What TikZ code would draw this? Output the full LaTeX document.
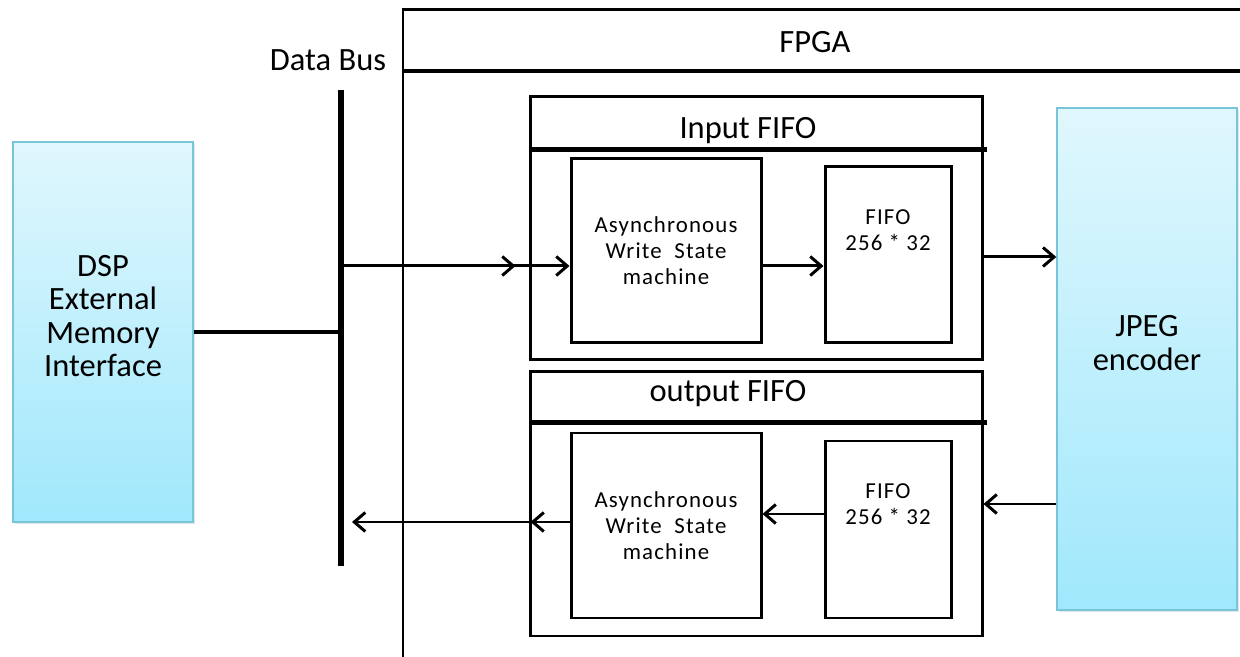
\documentclass[tikz,border=0pt]{standalone}
\usepackage{fontspec}
\setmainfont{Carlito}
\usetikzlibrary{arrows.meta,shadows}
\definecolor{boxtop}{HTML}{E0F7FD}
\definecolor{boxbot}{HTML}{A0E8FC}
\definecolor{boxline}{HTML}{78C4D8}

\begin{document}
\begin{tikzpicture}[every node/.style = {inner sep = 0pt, align = center, font = \fontsize{18.5}{19}\selectfont},
	unit/.style = {draw = boxline, thick, top color = boxtop, bottom color = boxbot, minimum width = 3.6cm, drop shadow = {opacity = .2, shadow xshift = .04cm, shadow yshift = -.04cm}},
	block/.style = {draw = black, line width = 1.7pt},
	small/.style = {font = \fontsize{13}{14.8}\selectfont\addfontfeatures{LetterSpace = 5}},
	arr/.style = {-{Straight Barb[length = 2.2mm, width = 3.8mm]}, line width = 1.7pt}]
	\useasboundingbox (0,0) rectangle (24.8,13.14);
	\clip (0,0) rectangle (24.8,13.14);
	\draw[block] (8.06,-1) |- (26,12.94);
	\draw[line width = 2.6pt] (8.06,11.72) -- (26,11.72);
	\node (FPGA) at (16.3,12.3) {FPGA};
   	\node[unit, minimum height = 7.6cm] (DSP) at (2.06,6.5) {};
	\node (DSPtext) at ([yshift = .32cm]DSP.center) {DSP\\External\\Memory\\Interface};
	\node[unit, minimum height = 10.04cm] (JPEG) at (22.94,5.96) {};
	\node (JPEGtext) at ([yshift = .32cm]JPEG.center) {JPEG\\encoder};
	\coordinate (BusT) at (6.82,11.34);
	\coordinate (BusB) at (6.82,1.82);
	\node (Label) at (6.56,11.94) {Data Bus};
	\draw[line width = 3.4pt] (BusT) -- (BusB);
	\draw[line width = 2.6pt] (DSP.east) -- (DSP.east -| BusT);
	\node[block, minimum width = 9.04cm, minimum height = 5.26cm] (InFIFO) at (15.12,8.57) {};
	\draw[line width = 2.6pt] ([yshift = -1.08cm]InFIFO.north west) -- ([yshift = -1.08cm, xshift = .06cm]InFIFO.north east);
	\node (InTitle) at (14.96,10.52) {Input FIFO};
	\node[block, small, minimum width = 3.8cm, minimum height = 3.68cm] (Async1) at (13.32,8.12) {Asynchronous\\Write~ State\\machine};
	\node[block, minimum width = 2.52cm, minimum height = 3.52cm] (FIFO1) at (17.76,8.04) {};
	\node[small] at ([yshift = -1.3cm]FIFO1.north) {FIFO\\256 * 32};
	\node[block, minimum width = 9.04cm, minimum height = 5.28cm] (OutFIFO) at (15.12,3.06) {};
	\draw[line width = 2.6pt] ([yshift = -1.04cm]OutFIFO.north west) -- ([yshift = -1.04cm, xshift = .06cm]OutFIFO.north east);
	\node (OutTitle) at (14.56,5.26) {output FIFO};
	\node[block, small, minimum width = 3.8cm, minimum height = 3.7cm] (Async2) at (13.32,2.63) {Asynchronous\\Write~ State\\machine};
	\node[block, minimum width = 2.52cm, minimum height = 3.54cm] (FIFO2) at (17.76,2.55) {};
	\node[small] at ([yshift = -1.3cm]FIFO2.north) {FIFO\\256 * 32};
	\coordinate (In) at (6.82,7.82);
	\coordinate (Out) at (6.82,2.7);
	\draw[arr] (In) -- (In -| Async1.west);
	\draw[arr] (In) -- ([xshift = -.26cm]In -| InFIFO.west);
	\draw[arr] (Async1.east |- In) -- (FIFO1.west |- In);
	\draw[arr] ([yshift = -.57cm]InFIFO.east) -- ([yshift = -.57cm]InFIFO.east -| JPEG.west);
	\draw[arr] (OutFIFO.east -| JPEG.west) -- (OutFIFO.east);
	\draw[arr] ([yshift = .31cm]FIFO2.west) -- ([yshift = .31cm]FIFO2.west -| Async2.east);
	\draw[arr] (Out -| Async2.west) -- ([xshift = .22cm]Out);
	\draw[arr] (Out -| Async2.west) -- ([xshift = .04cm]Out -| OutFIFO.west);
    \end{tikzpicture}
\end{document}
